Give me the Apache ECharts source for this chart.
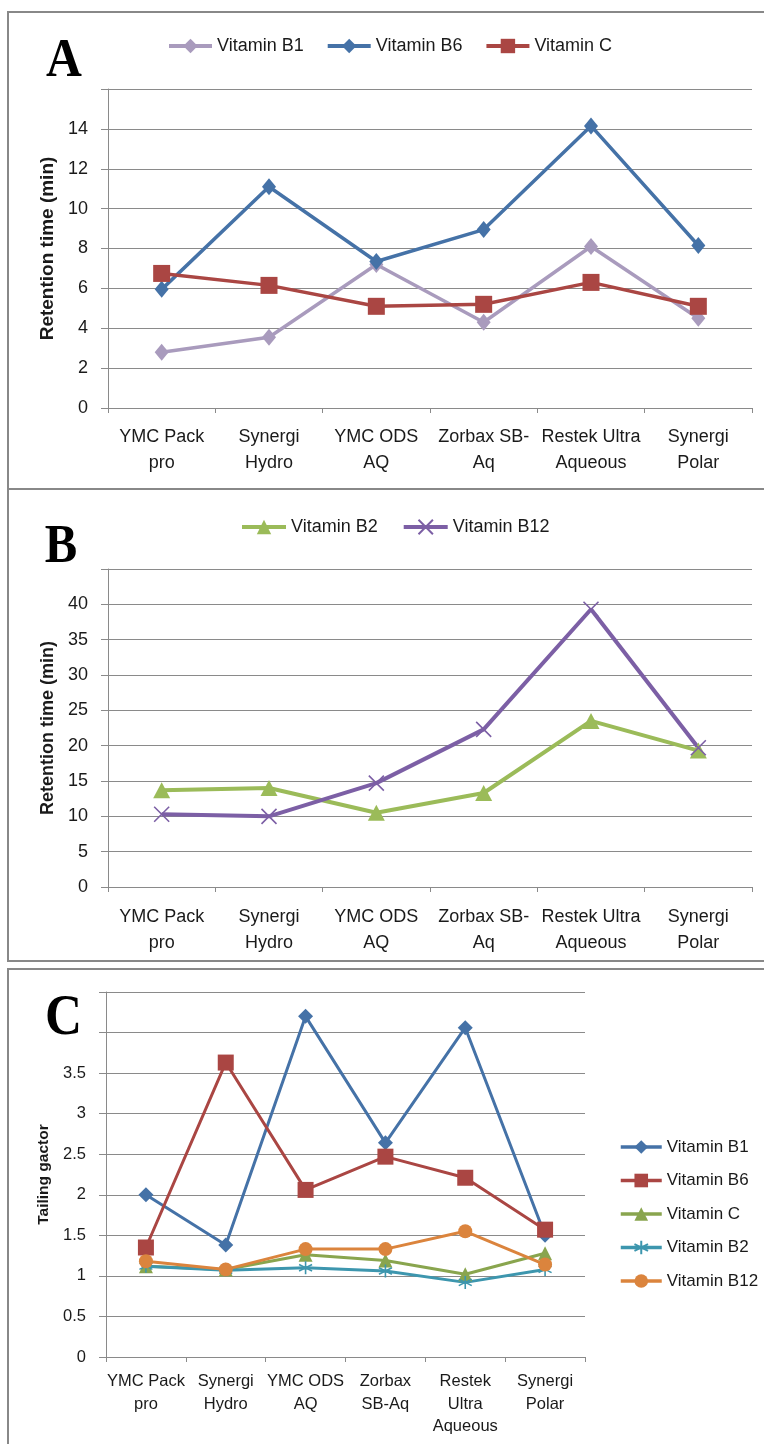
<!DOCTYPE html>
<html><head><meta charset="utf-8">
<script src="https://cdn.jsdelivr.net/npm/echarts@6/dist/echarts.min.js"></script>
<style>html,body{margin:0;padding:0;background:#fff}#c{width:764px;height:1444px}</style>
</head><body><div id="c"></div>
<script>
// ---- data ----
const categories = ['YMC Pack pro', 'Synergi Hydro', 'YMC ODS AQ', 'Zorbax SB-Aq', 'Restek Ultra Aqueous', 'Synergi Polar'];
const tickLabelsAB = ['YMC Pack\npro', 'Synergi\nHydro', 'YMC ODS\nAQ', 'Zorbax SB-\nAq', 'Restek Ultra\nAqueous', 'Synergi\nPolar'];
const tickLabelsC = ['YMC Pack\npro', 'Synergi\nHydro', 'YMC ODS\nAQ', 'Zorbax\nSB-Aq', 'Restek\nUltra\nAqueous', 'Synergi\nPolar'];

// Panel A: retention time (min)
const rtB1 = [2.8, 3.55, 7.2, 4.3, 8.1, 4.5];
const rtB6 = [5.95, 11.1, 7.35, 8.95, 14.15, 8.15];
const rtC = [6.75, 6.15, 5.1, 5.2, 6.3, 5.1];
// Panel B: retention time (min)
const rtB2 = [13.7, 14.0, 10.5, 13.3, 23.5, 19.3];
const rtB12 = [10.3, 10.0, 14.7, 22.3, 39.3, 19.7];
// Panel C: tailing factor
const tfB1 = [2.0, 1.38, 4.2, 2.64, 4.06, 1.5];
const tfB6 = [1.35, 3.63, 2.06, 2.47, 2.21, 1.57];
const tfC = [1.12, 1.08, 1.26, 1.19, 1.02, 1.28];
const tfB2 = [1.12, 1.07, 1.1, 1.06, 0.92, 1.08];
const tfB12 = [1.18, 1.08, 1.33, 1.33, 1.55, 1.14];

// ---- styling ----
const FONT = 'Liberation Sans';
const TXT = '#1a1a1a';
const GRID = '#8a8a8a';
const SYM_X = 'path://M0,0L10,10M10,0L0,10';
const SYM_AST = 'path://M5,0L5,10M0.7,2.5L9.3,7.5M0.7,7.5L9.3,2.5';

function ser(name, data, color, symbol, size, idx, lw, stroke) {
  return {
    name, type: 'line', data, xAxisIndex: idx, yAxisIndex: idx,
    symbol, symbolSize: size, showAllSymbol: true,
    lineStyle: { color, width: lw },
    itemStyle: stroke ? { color, borderColor: color, borderWidth: 1.6 } : { color, borderWidth: 0 },
    emphasis: { disabled: true }, animation: false
  };
}

function xAxis(idx, labels, fs, margin, lh) {
  return {
    gridIndex: idx, type: 'category', data: categories, boundaryGap: true,
    axisLine: { show: true, lineStyle: { color: GRID, width: 1 } },
    axisTick: { show: true, length: 5, lineStyle: { color: GRID } },
    axisLabel: { interval: 0, margin, color: TXT, fontFamily: FONT, fontSize: fs, lineHeight: lh,
      formatter: (v, i) => labels[i] },
    splitLine: { show: false }
  };
}
function yAxis(idx, max, interval, name, nameFs, nameGap, fs, hideFrom) {
  return {
    gridIndex: idx, type: 'value', min: 0, max, interval,
    name, nameLocation: 'middle', nameRotate: 90, nameGap,
    nameTextStyle: { fontFamily: FONT, fontWeight: 'bold', fontSize: nameFs, color: TXT },
    axisLine: { show: true, lineStyle: { color: GRID, width: 1 } },
    axisTick: { show: true, length: 7, lineStyle: { color: GRID } },
    axisLabel: { margin: 20, color: TXT, fontFamily: FONT, fontSize: fs,
      formatter: v => (v >= hideFrom - 1e-9 ? '' : String(v)) },
    splitLine: { show: true, lineStyle: { color: GRID, width: 1.2 } }
  };
}

const chart = echarts.init(document.getElementById('c'), null, { renderer: 'canvas' });
chart.setOption({
  backgroundColor: '#fff',
  animation: false,
  grid: [
    { left: 108, top: 89, width: 644, height: 319 },
    { left: 108, top: 569, width: 644, height: 318 },
    { left: 106, top: 992, width: 479, height: 365 }
  ],
  xAxis: [
    xAxis(0, tickLabelsAB, 18, 16, 26),
    xAxis(1, tickLabelsAB, 18, 17, 26),
    xAxis(2, tickLabelsC, 16.5, 13, 22.7)
  ],
  yAxis: [
    yAxis(0, 16, 2, 'Retention time (min)', 19, 49, 18, 16),
    yAxis(1, 45, 5, 'Retention time (min)', 18, 49, 18, 45),
    yAxis(2, 4.5, 0.5, 'Tailing gactor', 15.5, 52, 16.5, 4)
  ],
  legend: [
    { data: ['Vitamin B1', 'Vitamin B6', 'Vitamin C'], left: 162, top: 32, itemWidth: 43, itemHeight: 18, itemGap: 22,
      lineStyle: { width: 4 },
      textStyle: { fontFamily: FONT, fontSize: 18, color: TXT }, selectedMode: false },
    { data: ['Vitamin B2', 'Vitamin B12'], left: 235, top: 513, itemWidth: 44, itemHeight: 18, itemGap: 24,
      lineStyle: { width: 4 },
      textStyle: { fontFamily: FONT, fontSize: 18, color: TXT }, selectedMode: false },
    { data: ['Vitamin B1 ', 'Vitamin B6 ', 'Vitamin C ', 'Vitamin B2 ', 'Vitamin B12 '], orient: 'vertical',
      left: 614, top: 1132, itemWidth: 41, itemHeight: 17, itemGap: 13.5,
      lineStyle: { width: 3.5 },
      textStyle: { fontFamily: FONT, fontSize: 17, color: TXT, lineHeight: 20 }, selectedMode: false }
  ],
  series: [
    ser('Vitamin B1', rtB1, '#A99BBD', 'diamond', [14, 17], 0, 3.5),
    ser('Vitamin B6', rtB6, '#4572A7', 'diamond', [14, 17], 0, 3.5),
    ser('Vitamin C', rtC, '#AA4643', 'rect', 17, 0, 3.5),
    ser('Vitamin B2', rtB2, '#9BBB59', 'triangle', [17, 16], 1, 4),
    ser('Vitamin B12', rtB12, '#7C5FA5', SYM_X, 15, 1, 4, true),
    ser('Vitamin B1 ', tfB1, '#4572A7', 'diamond', 15, 2, 3),
    ser('Vitamin B6 ', tfB6, '#AA4643', 'rect', 16, 2, 3),
    ser('Vitamin C ', tfC, '#89A54E', 'triangle', 14, 2, 3),
    ser('Vitamin B2 ', tfB2, '#3D96AE', SYM_AST, 13, 2, 3, true),
    ser('Vitamin B12 ', tfB12, '#DB843D', 'circle', 14, 2, 3)
  ],
  graphic: [
    { type: 'rect', shape: { x: 8, y: 12, width: 780, height: 477 }, style: { fill: 'none', stroke: '#888', lineWidth: 2 }, z: 100 },
    { type: 'rect', shape: { x: 8, y: 489, width: 780, height: 472 }, style: { fill: 'none', stroke: '#888', lineWidth: 2 }, z: 100 },
    { type: 'rect', shape: { x: 8, y: 969, width: 780, height: 490 }, style: { fill: 'none', stroke: '#888', lineWidth: 2 }, z: 100 },
    { type: 'text', x: 64, y: 62, scaleX: 0.92, z: 100,
      style: { text: 'A', font: 'bold 54px "Liberation Serif"', fill: '#000', textAlign: 'center', textVerticalAlign: 'middle' } },
    { type: 'text', x: 61, y: 548, scaleX: 0.9, z: 100,
      style: { text: 'B', font: 'bold 54px "Liberation Serif"', fill: '#000', textAlign: 'center', textVerticalAlign: 'middle' } },
    { type: 'text', x: 63.5, y: 1019, scaleX: 0.9, z: 100,
      style: { text: 'C', font: 'bold 57px "Liberation Serif"', fill: '#000', textAlign: 'center', textVerticalAlign: 'middle' } }
  ]
});
</script>
</body></html>
